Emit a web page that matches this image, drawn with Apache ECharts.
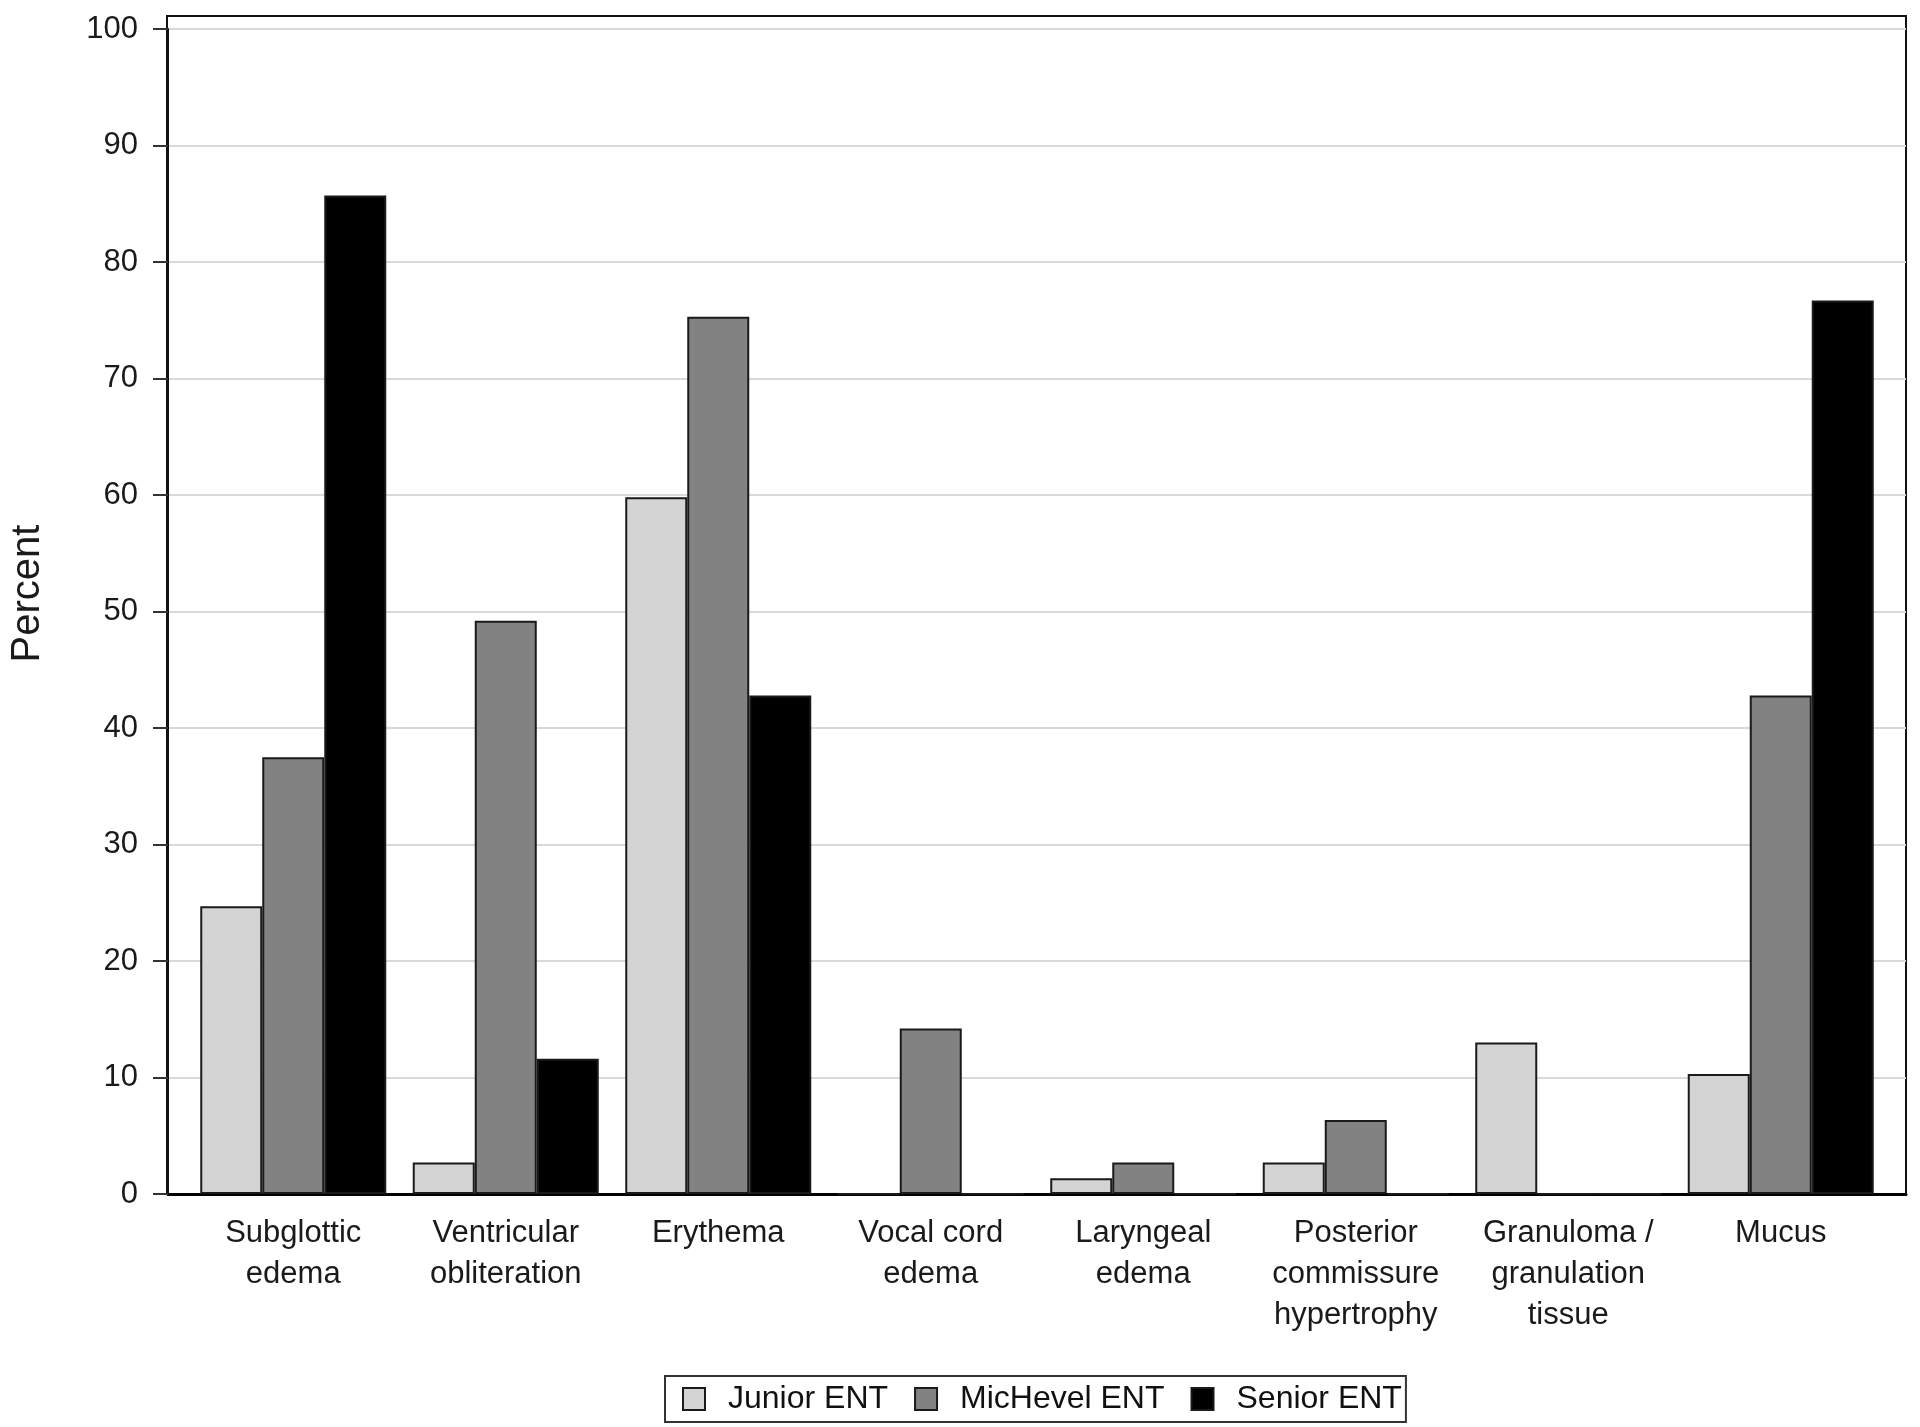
<!DOCTYPE html>
<html>
<head>
<meta charset="utf-8">
<script src="https://cdn.jsdelivr.net/npm/echarts@6/dist/echarts.min.js"></script>
<style>
    html, body { margin: 0; padding: 0; background: #fff; }
    #chart { width: 1920px; height: 1427px; }
</style>
</head>
<body>
<div id="chart"></div>
<script>
    // categories and values
    const categories = [
        'Subglottic\nedema',
        'Ventricular\nobliteration',
        'Erythema',
        'Vocal cord\nedema',
        'Laryngeal\nedema',
        'Posterior\ncommissure\nhypertrophy',
        'Granuloma /\ngranulation\ntissue',
        'Mucus'
    ];
    const seriesNames = ['Junior ENT', 'MicHevel ENT', 'Senior ENT'];
    const juniorValues = [24.7, 2.7, 59.8, 0, 1.35, 2.7, 13.0, 10.3];
    const midValues = [37.5, 49.2, 75.3, 14.2, 2.7, 6.35, 0, 42.8];
    const seniorValues = [85.7, 11.6, 42.8, 0, 0, 0, 0, 76.7];
    const yTicks = [0, 10, 20, 30, 40, 50, 60, 70, 80, 90, 100];

    const fontFamily = '"Liberation Sans", Arial, sans-serif';
    const colors = ['#d4d4d4', '#828282', '#000000'];

    let myChart = echarts.init(document.getElementById('chart'));

    function barSeries(name, data, color) {
        return {
            name: name,
            type: 'bar',
            xAxisIndex: 2,
            yAxisIndex: 2,
            data: data,
            barWidth: 62,
            barGap: '0%',
            itemStyle: {
                color: color,
                borderColor: '#1a1a1a',
                borderWidth: 2
            }
        };
    }

    let option = {
        backgroundColor: '#ffffff',
        animation: false,
        grid: [
            // frame
            { left: 167, right: 14, top: 16, bottom: 233, show: true, borderColor: '#111', borderWidth: 2, backgroundColor: 'transparent', containLabel: false },
            // y axis, gridlines and baseline
            { left: 167, right: 14, top: 29, bottom: 233, containLabel: false },
            // bars, inset a little like the original
            { left: 187, right: 33, top: 29, bottom: 233, containLabel: false }
        ],
        legend: {
            data: seriesNames,
            left: 665,
            top: 1376,
            orient: 'horizontal',
            icon: 'rect',
            itemWidth: 22,
            itemHeight: 22,
            itemGap: 26,
            padding: [7, 4, 7, 17],
            borderColor: '#333',
            borderWidth: 2,
            textStyle: {
                fontFamily: fontFamily,
                fontSize: 32,
                color: '#111',
                padding: [0, 0, 0, 18]
            }
        },
        xAxis: [
            { gridIndex: 0, type: 'category', data: categories, show: false },
            {
                gridIndex: 1,
                type: 'category',
                data: categories,
                axisLine: { show: true, lineStyle: { color: '#000', width: 3 } },
                axisTick: { show: false },
                axisLabel: { show: false },
                splitLine: { show: false }
            },
            {
                gridIndex: 2,
                type: 'category',
                data: categories,
                axisLine: { show: false },
                axisTick: { show: false },
                axisLabel: {
                    interval: 0,
                    margin: 19,
                    fontFamily: fontFamily,
                    fontSize: 31,
                    lineHeight: 41,
                    color: '#1a1a1a'
                }
            }
        ],
        yAxis: [
            { gridIndex: 0, type: 'value', min: 0, max: 100, show: false },
            {
                gridIndex: 1,
                type: 'value',
                min: yTicks[0],
                max: yTicks[yTicks.length - 1],
                interval: 10,
                name: 'Percent',
                nameLocation: 'middle',
                nameGap: 120,
                nameTextStyle: { fontFamily: fontFamily, fontSize: 40, color: '#1a1a1a', padding: [0, 0, 0, 36] },
                axisLine: { show: true, lineStyle: { color: '#111', width: 2 } },
                axisTick: { show: true, length: 15, lineStyle: { color: '#333', width: 2 } },
                axisLabel: {
                    margin: 30,
                    fontFamily: fontFamily,
                    fontSize: 31,
                    color: '#1a1a1a'
                },
                splitLine: { show: true, lineStyle: { color: '#d9d9d9', width: 2 } }
            },
            { gridIndex: 2, type: 'value', min: yTicks[0], max: yTicks[yTicks.length - 1], show: false }
        ],
        series: [
            barSeries(seriesNames[0], juniorValues, colors[0]),
            barSeries(seriesNames[1], midValues, colors[1]),
            barSeries(seriesNames[2], seniorValues, colors[2])
        ]
    };
    myChart.setOption(option);
</script>
</body>
</html>
